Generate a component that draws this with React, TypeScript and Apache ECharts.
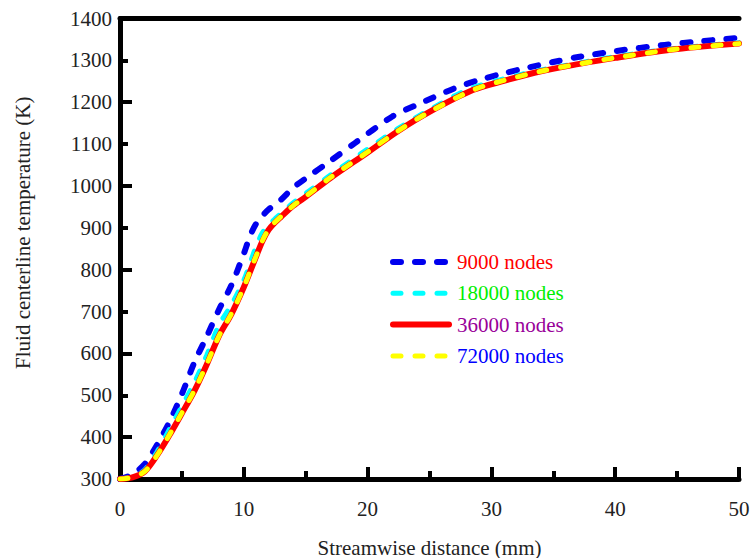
import React, { useEffect, useRef } from "react";
import * as echarts from "echarts";

// Streamwise distance (mm) sample positions and centerline temperatures (K)
const x9000 = [0, 1, 2, 3, 4, 5, 6, 7, 8, 9, 10, 10.5, 11, 11.5, 12, 13, 14, 15, 17, 19, 22, 24, 27, 29, 31, 33, 35, 37, 40, 44, 47, 50];
const t9000 = [300, 311, 336, 382, 437, 503, 578, 640, 705, 763, 838, 880, 910, 928, 944, 967, 996, 1018, 1060, 1103, 1166, 1194, 1233, 1253, 1269, 1283, 1296, 1308, 1322, 1337, 1346, 1354];

const x18000 = [0, 1, 2, 3, 4, 5, 6, 7, 8, 9, 10, 10.5, 11, 11.5, 12, 12.5, 13, 14, 15, 17, 20, 22.5, 25, 28, 31, 34, 37, 40, 45, 50];
const t18000 = [300, 306, 322, 365, 419, 474, 530, 595, 668, 716, 775, 815, 856, 888, 906, 921, 934, 960, 982, 1026, 1088, 1138, 1182, 1229, 1256, 1277, 1293, 1309, 1329, 1342];

const x36000 = [0, 1, 2, 3, 4, 5, 6, 7, 8, 9, 10, 10.5, 11, 11.5, 12, 12.5, 13, 14, 15, 17, 20, 22.5, 25, 28.5, 31, 34, 37, 40, 45, 50];
const t36000 = [300, 304, 318, 357, 405, 457, 510, 573, 642, 694, 758, 795, 832, 868, 895, 912, 926, 953, 974, 1019, 1080, 1132, 1177, 1229, 1251, 1274, 1291, 1306, 1327, 1340];

const x72000 = [0, 1, 2, 3, 4, 5, 6, 7, 8, 9, 10, 10.5, 11, 11.5, 12, 12.5, 13, 14, 15, 17, 20, 22.5, 25, 28.5, 31, 34, 37, 40, 45, 50];
const t72000 = [300, 304, 318, 357, 406, 458, 511, 574, 642, 695, 758, 796, 833, 869, 896, 913, 927, 953, 975, 1020, 1081, 1132, 1177, 1229, 1252, 1274, 1291, 1306, 1327, 1340];

const seriesNames = ["9000 nodes", "18000 nodes", "36000 nodes", "72000 nodes"];
const lineColors = ["#0000ee", "#00ffff", "#ff0000", "#ffff00"];
const labelColors = ["#ff0000", "#00ee00", "#990099", "#0000ff"];

const yLongTicks = [400, 600, 800, 1000, 1200, 1400];

const FONT = "Liberation Serif";

const zip = (xs: number[], ys: number[]) => xs.map((x, i) => [x, ys[i]]);

export default function App() {
  const ref = useRef<HTMLDivElement>(null);

  useEffect(() => {
    if (!ref.current) return;
    const chart = echarts.init(ref.current, undefined, { renderer: "svg" });

    const frameLine = { show: true, lineStyle: { color: "#000", width: 5 } };
    const dash = [8, 14];
    const plain = (v: number) => String(v);

    const lineStyles = [
      { color: lineColors[0], width: 6, type: dash, cap: "round" },
      { color: lineColors[1], width: 5, type: dash, cap: "round" },
      { color: lineColors[2], width: 6, type: "solid", cap: "round" },
      { color: lineColors[3], width: 5, type: dash, cap: "round" },
    ];
    const dataSets = [
      zip(x9000, t9000),
      zip(x18000, t18000),
      zip(x36000, t36000),
      zip(x72000, t72000),
    ];

    chart.setOption({
      animation: false,
      textStyle: { fontFamily: FONT },
      grid: { left: 120, right: 11, top: 18.5, bottom: 79, containLabel: false, outerBoundsMode: "none" },
      legend: {
        orient: "vertical",
        left: 390,
        top: 251.5,
        padding: 0,
        itemWidth: 56,
        itemHeight: 14,
        itemGap: 10.3,
        selectedMode: false,
        data: seriesNames.map((name, i) => ({
          name,
          lineStyle: lineStyles[i],
          itemStyle: { opacity: 0 },
          textStyle: {
            color: labelColors[i],
            fontSize: 21,
            lineHeight: 21,
            fontFamily: FONT,
            padding: [0, 0, 0, 3],
          },
        })),
      },
      xAxis: [
        {
          type: "value",
          min: 0,
          max: 50,
          interval: 10,
          position: "bottom",
          name: "Streamwise distance (mm)",
          nameLocation: "middle",
          nameGap: 58,
          nameTextStyle: { fontSize: 21, color: "#222", fontFamily: FONT },
          axisLine: frameLine,
          axisTick: { show: true, inside: true, length: 12, lineStyle: { color: "#000", width: 4 } },
          minorTick: { show: true, splitNumber: 2, length: 8, lineStyle: { color: "#000", width: 4 } },
          axisLabel: { fontSize: 21, color: "#222", margin: 19, fontFamily: FONT, formatter: plain },
          splitLine: { show: false },
        },
        {
          type: "value",
          min: 0,
          max: 50,
          position: "top",
          axisLine: frameLine,
          axisTick: { show: false },
          axisLabel: { show: false },
          splitLine: { show: false },
        },
      ],
      yAxis: [
        {
          type: "value",
          min: 300,
          max: 1400,
          interval: 100,
          position: "left",
          name: "Fluid centerline temperature (K)",
          nameLocation: "middle",
          nameGap: 87,
          nameTextStyle: { fontSize: 21, color: "#222", fontFamily: FONT, padding: [0, 0, 0, 32] },
          axisLine: frameLine,
          axisTick: { show: true, inside: true, length: 8, lineStyle: { color: "#000", width: 4 } },
          axisLabel: { fontSize: 21, color: "#222", margin: 8, fontFamily: FONT, formatter: plain },
          splitLine: { show: false },
        },
        {
          type: "value",
          min: 300,
          max: 1400,
          position: "right",
          axisLine: frameLine,
          axisTick: { show: false },
          axisLabel: { show: false },
          splitLine: { show: false },
        },
        {
          // longer inward ticks at every other hundred
          type: "value",
          min: 300,
          max: 1400,
          position: "left",
          offset: 0,
          axisLine: { show: false },
          axisTick: {
            show: true,
            inside: true,
            length: 12,
            customValues: yLongTicks,
            lineStyle: { color: "#000", width: 4 },
          },
          axisLabel: { show: false },
          splitLine: { show: false },
        },
      ],
      series: seriesNames.map((name, i) => ({
        name,
        type: "line",
        xAxisIndex: 0,
        yAxisIndex: 0,
        data: dataSets[i],
        smooth: 0.3,
        symbol: "none",
        lineStyle: lineStyles[i],
        z: 2 + i,
      })),
    });

    return () => chart.dispose();
  }, []);

  return (
    <div
      ref={ref}
      style={{ position: "fixed", left: 0, top: 0, width: 750, height: 558, background: "#fff" }}
    />
  );
}
